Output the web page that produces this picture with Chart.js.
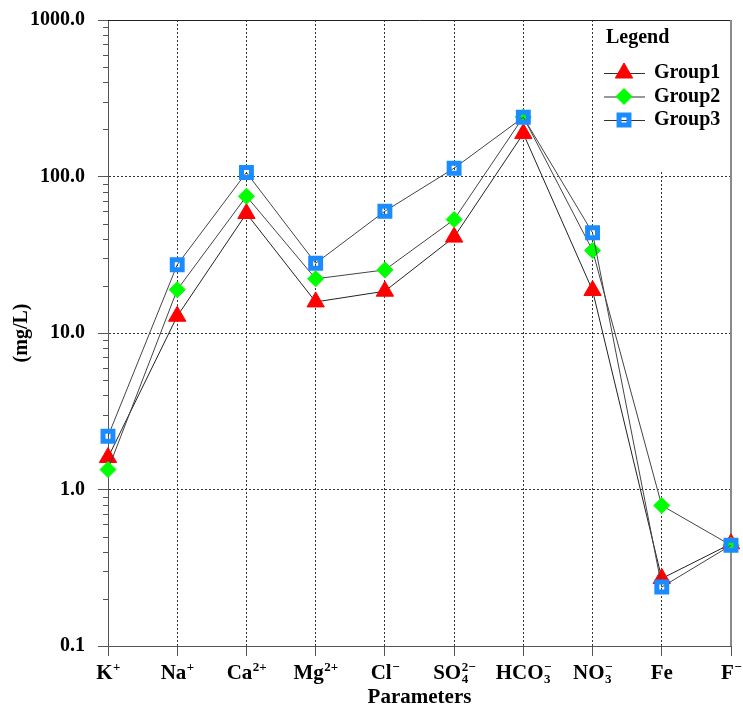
<!DOCTYPE html>
<html>
<head>
<meta charset="utf-8">
<script src="https://cdn.jsdelivr.net/npm/chart.js@4.4.1/dist/chart.umd.min.js"></script>
<style>
  body { margin: 0; background: #fff; }
  canvas { display: block; }
</style>
</head>
<body>
<canvas id="myChart" width="743" height="708"></canvas>
<script>
// categories (plain names) and how each one is written under the axis
var categories = ["K+", "Na+", "Ca2+", "Mg2+", "Cl-", "SO4 2-", "HCO3-", "NO3-", "Fe", "F-"];
var xTickLabels = [
  { base: "K", sub: "", sup: "+" },
  { base: "Na", sub: "", sup: "+" },
  { base: "Ca", sub: "", sup: "2+" },
  { base: "Mg", sub: "", sup: "2+" },
  { base: "Cl", sub: "", sup: "\u2212" },
  { base: "SO", sub: "4", sup: "2\u2212" },
  { base: "HCO", sub: "3", sup: "\u2212" },
  { base: "NO", sub: "3", sup: "\u2212" },
  { base: "Fe", sub: "", sup: "" },
  { base: "F", sub: "", sup: "\u2212" }
];

var group1 = [1.6, 12.8, 58, 15.8, 18.5, 41, 188, 18.7, 0.27, 0.45];
var group2 = [1.34, 18.9, 74.8, 22.2, 25.3, 53.1, 240, 33.7, 0.79, 0.44];
var group3 = [2.19, 27.3, 106, 27.9, 60, 113, 239, 43.7, 0.238, 0.44];

var yMajorTicks = [0.1, 1, 10, 100, 1000];
var yTickLabels = ["0.1", "1.0", "10.0", "100.0", "1000.0"];

var FONT = "'Liberation Serif', 'Times New Roman', serif";
Chart.defaults.font.family = FONT;
Chart.defaults.font.weight = "bold";
Chart.defaults.color = "#000";

function isMajor(v) {
  var l = Math.log10(v);
  return Math.abs(l - Math.round(l)) < 1e-6;
}

// minor ticks: 2..9 inside each decade
var yTickValues = [];
for (var d = 0; d < yMajorTicks.length - 1; d++) {
  for (var k = 1; k < 10; k++) yTickValues.push(yMajorTicks[d] * k);
}
yTickValues.push(yMajorTicks[yMajorTicks.length - 1]);

// frame, minor ticks, sub/superscript x labels, legend
var framePlugin = {
  id: "frame",
  beforeDatasetsDraw: function (chart) {
    var ctx = chart.ctx, a = chart.chartArea;
    ctx.save();
    ctx.strokeStyle = "#222";
    ctx.lineWidth = 1;
    ctx.beginPath();
    ctx.moveTo(a.left, a.top + 0.5);
    ctx.lineTo(a.right, a.top + 0.5);
    ctx.stroke();
    ctx.strokeStyle = "#8a8a8a";
    ctx.lineWidth = 2;
    ctx.beginPath();
    ctx.moveTo(a.right, a.top);
    ctx.lineTo(a.right, a.bottom);
    ctx.stroke();
    // minor y ticks
    var y = chart.scales.y;
    ctx.strokeStyle = "#555";
    ctx.lineWidth = 1;
    yTickValues.forEach(function (v) {
      if (isMajor(v)) return;
      var py = Math.round(y.getPixelForValue(v)) + 0.5;
      ctx.beginPath();
      ctx.moveTo(a.left - 5, py);
      ctx.lineTo(a.left, py);
      ctx.stroke();
    });
    ctx.restore();
  },
  afterDraw: function (chart) {
    var ctx = chart.ctx, x = chart.scales.x, a = chart.chartArea;
    ctx.save();
    ctx.fillStyle = "#000";
    ctx.textBaseline = "alphabetic";
    var baseY = a.bottom + 33;
    xTickLabels.forEach(function (lab, i) {
      ctx.font = "bold 21px " + FONT;
      var wb = ctx.measureText(lab.base).width;
      ctx.font = "bold 13px " + FONT;
      var ws = Math.max(ctx.measureText(lab.sub).width, ctx.measureText(lab.sup).width);
      var cx = x.getPixelForValue(i);
      var left = cx - (wb + ws) / 2;
      ctx.font = "bold 21px " + FONT;
      ctx.textAlign = "left";
      ctx.fillText(lab.base, left, baseY);
      ctx.font = "bold 13px " + FONT;
      if (lab.sup) ctx.fillText(lab.sup, left + wb + 0.5, baseY - 8);
      if (lab.sub) ctx.fillText(lab.sub, left + wb + 0.5, baseY + 4);
    });

    // legend box
    ctx.fillStyle = "#fff";
    ctx.fillRect(a.right - 137, a.top + 1, 136, 151);
    ctx.fillStyle = "#000";
    ctx.font = "bold 20px " + FONT;
    ctx.textBaseline = "middle";
    ctx.fillText("Legend", a.right - 125, a.top + 18);
    chart.data.datasets.forEach(function (ds, i) {
      var ly = a.top + 53 + i * 23.5;
      var lx = a.right - 127;
      ctx.strokeStyle = "#333";
      ctx.lineWidth = 1;
      ctx.beginPath();
      ctx.moveTo(lx, ly + 0.5);
      ctx.lineTo(lx + 41, ly + 0.5);
      ctx.stroke();
      ctx.fillStyle = ds.pointBackgroundColor;
      ctx.strokeStyle = ds.pointBorderColor;
      ctx.lineWidth = ds.pointBorderWidth;
      Chart.helpers.drawPoint(ctx, {
        pointStyle: ds.pointStyle,
        radius: ds.pointRadius,
        rotation: 0,
        borderWidth: ds.pointBorderWidth
      }, lx + 20, ly);
      ctx.fillStyle = "#000";
      ctx.fillText(ds.label, lx + 50, ly);
    });
    ctx.restore();
  }
};

var ctx = document.getElementById("myChart");

new Chart(ctx, {
  type: "line",
  data: {
    labels: categories,
    datasets: [
      {
        label: "Group1",
        data: group1,
        borderColor: "#222",
        borderWidth: 1,
        pointStyle: "triangle",
        pointRadius: 10,
        pointBackgroundColor: "#ff0000",
        pointBorderColor: "#ff0000",
        pointBorderWidth: 1,
        order: 3
      },
      {
        label: "Group2",
        data: group2,
        borderColor: "#444",
        borderWidth: 1,
        pointStyle: "rectRot",
        pointRadius: 8,
        pointBackgroundColor: "#00ff00",
        pointBorderColor: "#00ff00",
        pointBorderWidth: 1,
        order: 2
      },
      {
        label: "Group3",
        data: group3,
        borderColor: "#444",
        borderWidth: 1,
        pointStyle: "rect",
        pointRadius: 7,
        pointBackgroundColor: "rgba(255,255,255,0)",
        pointBorderColor: "#1a8cff",
        pointBorderWidth: 5,
        order: 1
      }
    ]
  },
  options: {
    responsive: false,
    animation: false,
    layout: { padding: { top: 20, right: 9, left: 0, bottom: 0 } },
    plugins: { legend: { display: false }, tooltip: { enabled: false } },
    elements: { line: { tension: 0 } },
    scales: {
      x: {
        offset: false,
        grid: {
          offset: false,
          color: function (c) {
            return (c.index === 0 || c.index === categories.length - 1) ? "rgba(0,0,0,0)" : "#333";
          },
          tickColor: "#555",
          tickLength: 10
        },
        border: { color: "#555", dash: [2, 2] },
        ticks: { display: false },
        title: {
          display: true,
          text: "Parameters",
          font: { size: 21, weight: "bold", lineHeight: 1 },
          padding: 0
        },
        afterFit: function (s) {
          s.height = 62;
          s.paddingLeft = 0; s.paddingRight = 0; s.paddingTop = 0; s.paddingBottom = 0;
        }
      },
      y: {
        type: "logarithmic",
        min: 0.1,
        max: 1000,
        afterBuildTicks: function (s) {
          s.ticks = yTickValues.map(function (v) { return { value: v }; });
        },
        grid: {
          color: function (c) {
            var v = c.tick ? c.tick.value : 0;
            if (!isMajor(v) || v === 0.1 || v === 1000) return "rgba(0,0,0,0)";
            return "#333";
          },
          tickColor: function (c) {
            return (c.tick && isMajor(c.tick.value)) ? "#555" : "rgba(0,0,0,0)";
          },
          tickLength: 10
        },
        border: { color: "#555", dash: [2, 2] },
        ticks: {
          autoSkip: false,
          padding: 13,
          font: { size: 20, weight: "bold" },
          callback: function (v) {
            var i = yMajorTicks.findIndex(function (m) { return Math.abs(m - v) < 1e-9; });
            return i >= 0 ? yTickLabels[i] : "";
          }
        },
        title: {
          display: true,
          text: "(mg/L)",
          font: { size: 20, weight: "bold", lineHeight: 1 },
          padding: { top: 12, bottom: 0 }
        },
        afterFit: function (s) {
          s.width = 108;
          s.paddingLeft = 0; s.paddingRight = 0; s.paddingTop = 0; s.paddingBottom = 0;
        }
      }
    }
  },
  plugins: [framePlugin]
});
</script>
</body>
</html>
